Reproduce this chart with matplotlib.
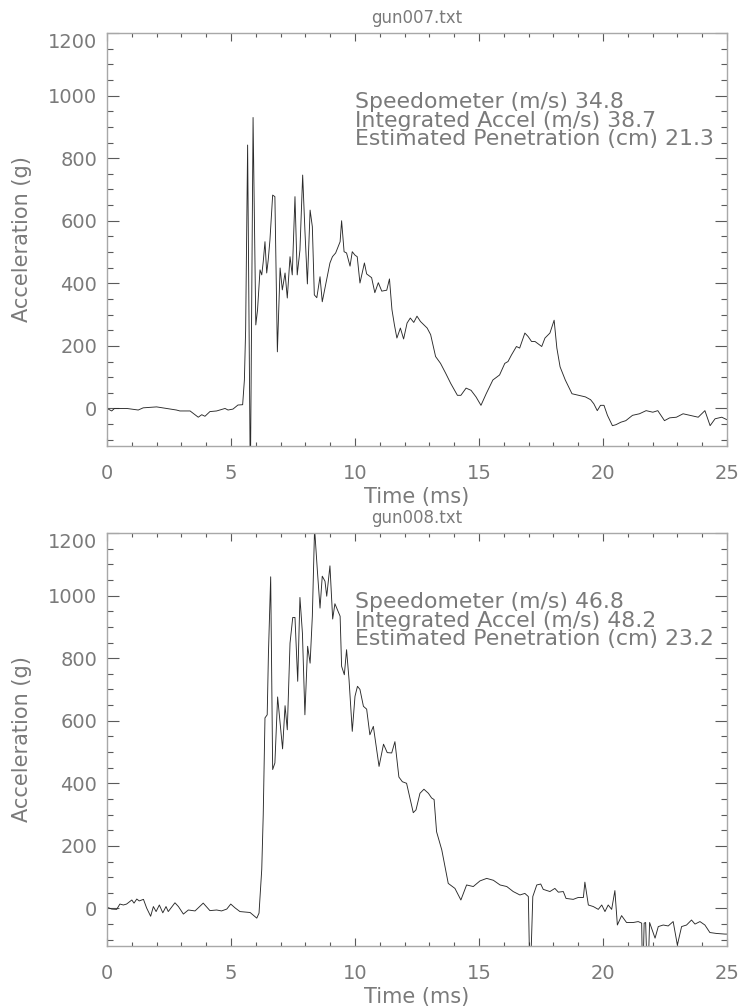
import matplotlib
matplotlib.use("Agg")
import matplotlib.pyplot as plt
from matplotlib.ticker import MultipleLocator, FuncFormatter

# ---------------- data ----------------
t007 = [0.0, 0.19, 0.3, 0.8, 1.26, 1.46, 2.0, 2.4, 2.8, 2.94, 3.35, 3.68, 3.82, 3.95,
        4.15, 4.42, 4.76, 4.88, 5.08, 5.28, 5.47, 5.54, 5.59, 5.67, 5.78, 5.89, 6.0,
        6.07, 6.17, 6.24, 6.3, 6.37, 6.44, 6.5, 6.57, 6.68, 6.77, 6.87, 6.98, 7.07,
        7.18, 7.27, 7.38, 7.47, 7.58, 7.67, 7.78, 7.89, 7.98, 8.08, 8.19, 8.28, 8.36,
        8.46, 8.59, 8.68, 8.83, 8.99, 9.09, 9.22, 9.40, 9.46, 9.56, 9.66, 9.80, 9.89,
        10.0, 10.09, 10.2, 10.38, 10.47, 10.67, 10.8, 10.94, 11.08, 11.28, 11.39,
        11.49, 11.59, 11.69, 11.83, 11.96, 12.1, 12.23, 12.37, 12.5, 12.64, 12.91,
        13.05, 13.25, 13.45, 13.66, 13.86, 14.13, 14.27, 14.48, 14.68, 14.88, 15.08,
        15.29, 15.56, 15.83, 16.04, 16.17, 16.31, 16.51, 16.64, 16.85, 16.98, 17.12,
        17.26, 17.53, 17.66, 17.86, 18.03, 18.14, 18.27, 18.48, 18.75, 19.02, 19.29,
        19.50, 19.63, 19.77, 19.90, 20.04, 20.18, 20.38, 20.52, 20.72, 20.92, 21.19,
        21.47, 21.74, 22.01, 22.21, 22.48, 22.69, 22.96, 23.23, 23.5, 23.84, 24.11,
        24.32, 24.52, 24.79, 25.0]
a007 = [0, -8, 0, 0, -5, 2, 5, 0, -5, -8, -8, -28, -20, -25,
        -10, -8, 0, -5, -2, 11, 12, 91, 251, 842, -250, 930, 267,
        315, 443, 427, 469, 533, 433, 474, 538, 682, 677, 181, 449, 379,
        433, 353, 485, 427, 677, 427, 506, 746, 570, 398, 634, 581, 363,
        354, 421, 341, 401, 465, 485, 497, 533, 600, 501, 497, 455, 501,
        490, 485, 401, 465, 430, 418, 370, 402, 375, 378, 414,
        316, 267, 225, 257, 222, 273, 289, 275, 295, 278, 257,
        236, 166, 144, 112, 80, 42, 42, 65, 58, 37, 10,
        47, 91, 107, 144, 150, 171, 198, 193, 241, 230, 214,
        214, 198, 225, 241, 282, 193, 133, 91, 47, 42, 37,
        28, 15, -7, 10, 10, -22, -55, -52, -44, -39, -22,
        -17, -7, -12, -7, -39, -30, -28, -17, -22, -28, -7,
        -55, -33, -28, -36]

t008 = [0.0, 0.19, 0.39, 0.52, 0.66, 0.79, 1.0, 1.09, 1.2, 1.3, 1.47, 1.6, 1.76, 1.87,
        1.98, 2.11, 2.25, 2.38, 2.47, 2.74, 2.88, 3.08, 3.28, 3.55, 3.88, 4.15, 4.42,
        4.62, 4.83, 4.99, 5.16, 5.36, 5.77, 6.04, 6.13, 6.24, 6.30, 6.37, 6.46, 6.51,
        6.60, 6.68, 6.77, 6.88, 6.98, 7.08, 7.18, 7.27, 7.38, 7.49, 7.58, 7.69, 7.78,
        7.88, 7.98, 8.09, 8.19, 8.28, 8.37, 8.48, 8.59, 8.68, 8.79, 8.86, 8.99, 9.1,
        9.19, 9.4, 9.46, 9.57, 9.66, 9.76, 9.89, 10.0, 10.1, 10.2, 10.34, 10.47, 10.6,
        10.74, 10.97, 11.15, 11.3, 11.48, 11.61, 11.77, 11.91, 12.08, 12.35, 12.46,
        12.62, 12.78, 12.96, 13.09, 13.19, 13.29, 13.5, 13.76, 14.03, 14.27, 14.5,
        14.77, 15.04, 15.31, 15.58, 15.85, 16.12, 16.38, 16.65, 16.85, 16.99, 17.06,
        17.17, 17.33, 17.49, 17.59, 17.86, 18.06, 18.2, 18.4, 18.51, 18.8, 19.0, 19.21,
        19.27, 19.41, 19.61, 19.81, 19.95, 20.08, 20.21, 20.35, 20.48, 20.58, 20.75,
        20.95, 21.22, 21.42, 21.56, 21.6, 21.66, 21.72, 21.8, 21.88, 22.1, 22.23,
        22.43, 22.63, 22.83, 23.0, 23.17, 23.37, 23.57, 23.71, 23.91, 24.11, 24.31,
        24.58, 24.92, 25.0]
a008 = [4, -2, -3, 14, 11, 14, 27, 17, 30, 24, 29, 1, -25, 6,
        -10, 11, -14, 6, -10, 18, 6, -18, -5, -8, 17, -7, -5,
        -8, -2, 14, 2, -10, -13, -31, -15, 125, 300, 609, 619, 816,
        1060, 444, 465, 676, 593, 510, 648, 571, 848, 930, 930, 726, 994,
        880, 619, 838, 784, 934, 1215, 1083, 960, 1062, 1046, 998, 1095, 925,
        974, 934, 774, 747, 827, 731, 566, 678, 710, 700, 646, 637, 555,
        582, 454, 525, 498, 497, 533, 420, 405, 400, 306, 315,
        368, 381, 368, 353, 348, 245, 187, 80, 64, 27, 75,
        70, 88, 96, 90, 75, 70, 54, 43, 48, 38, -250,
        38, 75, 78, 61, 54, 64, 52, 54, 32, 29, 35, 35,
        84, 11, 6, -3, 11, -10, 11, -3, 57, -53, -23,
        -45, -45, -42, -47, -250, -47, -45, -250, -45, -95, -58,
        -53, -56, -42, -117, -58, -53, -37, -50, -42, -53, -77,
        -80, -82, -82]

titles = ["gun007.txt", "gun008.txt"]
speedometer = [34.8, 46.8]
integrated = [38.7, 48.2]
penetration = [21.3, 23.2]

x_range = (0, 25)
y_range = (-120, 1200)

# ---------------- styling ----------------
TEXT = "#7a7a7a"
SPINE = "#a8a8a8"
TICK = "#5a5a5a"
LINE = "#2a2a2a"

plt.rcParams["font.family"] = ["DejaVu Sans"]

fig = plt.figure(figsize=(7.4, 10.07), dpi=100)
positions = [[0.1446, 0.5571, 0.8378, 0.4101],
             [0.1446, 0.0606, 0.8378, 0.4101]]
series = [(t007, a007), (t008, a008)]

ytop = y_range[1]
yfmt = FuncFormatter(lambda v, p: "" if abs(v - ytop) < 1e-6 else "%d" % v)

for i, (pos, (t, a)) in enumerate(zip(positions, series)):
    ax = fig.add_axes(pos)
    ax.plot(t, a, color=LINE, lw=0.65)
    ax.set_xlim(*x_range)
    ax.set_ylim(*y_range)
    for s in ax.spines.values():
        s.set_color(SPINE)
        s.set_linewidth(1.0)
    ax.xaxis.set_major_locator(MultipleLocator(5))
    ax.xaxis.set_minor_locator(MultipleLocator(1))
    ax.yaxis.set_major_locator(MultipleLocator(200))
    ax.yaxis.set_minor_locator(MultipleLocator(50))
    ax.yaxis.set_major_formatter(yfmt)
    ax.tick_params(axis="x", which="major", direction="in", length=6.1, width=0.8,
                   color=TICK, top=True, pad=13, labelsize=14, labelcolor=TEXT)
    ax.tick_params(axis="x", which="minor", direction="in", length=3.0, width=0.8,
                   color=TICK, top=True)
    ax.tick_params(axis="y", which="major", direction="in", length=8.9, width=0.8,
                   color=TICK, right=True, pad=7, labelsize=14, labelcolor=TEXT)
    ax.tick_params(axis="y", which="minor", direction="in", length=4.5, width=0.8,
                   color=TICK, right=True)
    # top y label sits slightly below its tick, as in the reference
    ax.annotate("%d" % ytop, xy=(0, ytop), xycoords=("axes fraction", "data"),
                xytext=(-7, -7), textcoords="offset points", ha="right",
                va="center", fontsize=14, color=TEXT)

    ax.text(0.5, 1.036, titles[i], transform=ax.transAxes, ha="center", va="center",
            fontsize=12, color=TEXT)
    ax.text(0.5, -0.1235, "Time (ms)", transform=ax.transAxes, ha="center",
            va="center", fontsize=15, color=TEXT)
    ax.text(-0.137, 0.5, "Acceleration (g)", transform=ax.transAxes, ha="center",
            va="center", rotation=90, fontsize=15, color=TEXT)

    lines = ["Speedometer (m/s) %.1f" % speedometer[i],
             "Integrated Accel (m/s) %.1f" % integrated[i],
             "Estimated Penetration (cm) %.1f" % penetration[i]]
    for k, s in enumerate(lines):
        ax.text(10.0, 980 - k * 60, s, ha="left", va="center", fontsize=15.8,
                color=TEXT)

fig.savefig("out.png", dpi=100)
